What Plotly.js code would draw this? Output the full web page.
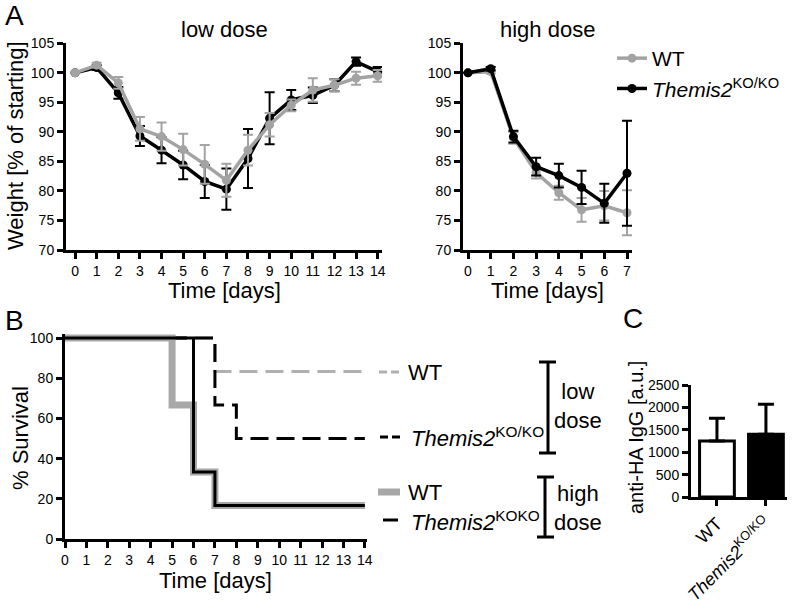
<!DOCTYPE html>
<html>
<head>
<meta charset="utf-8">
<script src="https://cdn.plot.ly/plotly-3.0.1.min.js"></script>
<style>html,body{margin:0;padding:0;background:#fff;}#chart{width:792px;height:608px;}</style>
</head>
<body>
<div id="chart"></div>
<script>
// ---------- DATA ----------
const daysLow = [0,1,2,3,4,5,6,7,8,9,10,11,12,13,14];
const wtLow    = [100,101.3,98.3,90.5,89.2,87.0,84.5,81.8,86.9,91.2,94.5,97.1,97.9,99.1,99.5];
const wtLowErr = [0,0.4,1.0,2.0,2.4,2.7,3.3,2.8,2.6,2.0,1.0,2.0,1.0,1.1,1.0];
const koLow    = [100,100.9,96.6,89.3,86.9,84.4,81.6,80.3,85.5,92.3,95.4,96.2,97.9,101.9,100.2];
const koLowErr = [0,0.4,1.0,1.7,2.2,2.4,2.8,3.5,5.0,4.4,1.7,1.3,1.0,0.7,0.8];

const daysHigh = [0,1,2,3,4,5,6,7];
const wtHigh    = [100,100.2,89.0,83.1,79.7,76.8,77.5,76.3];
const wtHighErr = [0,0.3,1.0,1.0,1.2,2.0,2.5,3.8];
const koHigh    = [100,100.7,89.2,84.1,82.6,80.6,77.9,83.0];
const koHighErr = [0,0.3,1.0,1.5,2.0,2.8,3.3,8.9];

const survLowWtX  = [0,7,14];        const survLowWtY  = [100,83.3,83.3];
const survLowKoX  = [0,7,8,14];      const survLowKoY  = [100,66.7,50,50];
const survHighWtX = [0,5,6,7,14];    const survHighWtY = [100,66.7,33.3,16.7,16.7];
const survHighKoX = [0,6,7,14];      const survHighKoY = [100,33.3,16.7,16.7];

const igGroups = ['WT','<i>Themis2</i><sup>KO/KO</sup>'];
const igValues = [1250,1400];
const igErr    = [510,670];

const weightTicks = [70,75,80,85,90,95,100,105];
const survTicks = [0,20,40,60,80,100];
const igTicks = [0,500,1000,1500,2000,2500];

// ---------- STYLE ----------
const W = 792, H = 608;
const px = v => v / W;
const py = v => 1 - v / H;
const FONT = 'Liberation Sans, Arial, Helvetica, sans-serif';
const GRAY = '#a3a3a3';
const LW = 3;

function xax(domain, range, tickvals, ticktext, extra) {
  return Object.assign({
    domain: domain, range: range, tickvals: tickvals, ticktext: ticktext,
    showline: true, linewidth: LW, linecolor: '#000', ticks: 'outside', ticklen: 6,
    tickwidth: LW, tickcolor: '#000', showgrid: false, zeroline: false,
    tickfont: {family: FONT, size: 14, color: '#000'}, fixedrange: true
  }, extra || {});
}
function yax(domain, range, tickvals, extra) {
  return Object.assign({
    domain: domain, range: range, tickvals: tickvals,
    showline: true, linewidth: LW, linecolor: '#000', ticks: 'outside', ticklen: 6,
    tickwidth: LW, tickcolor: '#000', showgrid: false, zeroline: false,
    tickfont: {family: FONT, size: 14, color: '#000'}, fixedrange: true
  }, extra || {});
}

function wline(x, y, err, color, name, xa, ya, show) {
  return {
    type: 'scatter', mode: 'lines+markers', x: x, y: y, name: name,
    xaxis: xa, yaxis: ya, showlegend: show, cliponaxis: false,
    line: {color: color, width: 3.5},
    marker: {color: color, size: 9},
    error_y: {type: 'data', array: err, visible: true, color: color, thickness: 2, width: 5}
  };
}

const traces = [
  wline(daysLow, koLow, koLowErr, '#000', 'ko', 'x', 'y', false),
  wline(daysLow, wtLow, wtLowErr, GRAY, 'wt', 'x', 'y', false),
  wline(daysHigh, wtHigh, wtHighErr, GRAY, 'WT', 'x2', 'y2', true),
  wline(daysHigh, koHigh, koHighErr, '#000', '<i>Themis2</i><sup>KO/KO</sup>', 'x2', 'y2', true),
  {type:'scatter', mode:'lines', x: survLowWtX, y: survLowWtY, xaxis:'x3', yaxis:'y3', showlegend:false,
   line:{shape:'hv', color:'#b0b0b0', width:3, dash:'18px,8px'}, cliponaxis:false},
  {type:'scatter', mode:'lines', x: survLowKoX, y: survLowKoY, xaxis:'x3', yaxis:'y3', showlegend:false,
   line:{shape:'hv', color:'#000', width:3, dash:'18px,8px'}, cliponaxis:false},
  {type:'scatter', mode:'lines', x: survHighWtX, y: survHighWtY, xaxis:'x3', yaxis:'y3', showlegend:false,
   line:{shape:'hv', color:'#a8a8a8', width:7}, cliponaxis:false},
  {type:'scatter', mode:'lines', x: survHighKoX, y: survHighKoY, xaxis:'x3', yaxis:'y3', showlegend:false,
   line:{shape:'hv', color:'#000', width:3}, cliponaxis:false},
  {type:'bar', x:[0,1], y: igValues, xaxis:'x4', yaxis:'y4', showlegend:false, width:0.71,
   marker:{color:['#fff','#000'], line:{color:'#000', width:3}},
   error_y:{type:'data', symmetric:false, array: igErr, arrayminus:[0,0], color:'#000', thickness:3, width:8}}
];

function ann(text, x, y, size, extra) {
  return Object.assign({text: text, x: px(x), y: py(y), xref:'paper', yref:'paper',
    showarrow:false, xanchor:'center', yanchor:'middle',
    font:{family: FONT, size: size, color:'#000'}}, extra || {});
}

const annotations = [
  ann('A', 14, 16, 28),
  ann('low dose', 224, 29, 22),
  ann('high dose', 547, 29, 22),
  ann('Weight [% of starting]', 16, 146, 22, {textangle: -90}),
  ann('Time [days]', 224, 290, 22),
  ann('Time [days]', 547, 290, 22),
  ann('B', 14, 320, 28),
  ann('% Survival', 20, 438, 22, {textangle: -90}),
  ann('Time [days]', 216, 580, 22),
  ann('C', 633, 318, 28),
  ann('anti-HA IgG [a.u.]', 636, 438, 20, {textangle: -90}),
  ann('WT', 406, 372, 22, {xanchor:'left'}),
  ann('<i>Themis2</i><sup>KO/KO</sup>', 409, 437, 22, {xanchor:'left'}),
  ann('WT', 406, 492, 22, {xanchor:'left'}),
  ann('<i>Themis2</i><sup>KOKO</sup>', 409, 521, 22, {xanchor:'left'}),
  ann('low<br>dose', 578, 406, 22),
  ann('high<br>dose', 578, 508, 22)
];

function seg(x0, y0, x1, y1, color, width, dash) {
  return {type:'line', xref:'paper', yref:'paper', x0: px(x0), y0: py(y0), x1: px(x1), y1: py(y1),
    line:{color: color, width: width, dash: dash || 'solid'}};
}
const shapes = [
  seg(379, 372, 400, 372, '#b0b0b0', 3, '8px,4px'),
  seg(380, 437, 400, 437, '#000', 3, '8px,4px'),
  seg(378, 492, 400, 492, '#a8a8a8', 7),
  seg(383, 520, 398, 520, '#000', 3),
  // brackets
  seg(548, 362, 548, 453, '#000', 3), seg(539, 362, 556, 362, '#000', 3), seg(539, 453, 556, 453, '#000', 3),
  seg(545, 477, 545, 537, '#000', 3), seg(537, 477, 554, 477, '#000', 3), seg(537, 537, 554, 537, '#000', 3)
];

const layout = {
  width: W, height: H, margin:{l:0,r:0,t:0,b:0}, paper_bgcolor:'#fff', plot_bgcolor:'rgba(0,0,0,0)',
  font:{family: FONT, color:'#000'},
  showlegend: true,
  legend:{x: px(612), y: py(38), xanchor:'left', yanchor:'top', bgcolor:'rgba(0,0,0,0)',
    font:{family: FONT, size: 21, color:'#000'}, itemwidth: 30, tracegroupgap: 0},
  xaxis:  xax([px(66), px(382)], [-0.42, 14.2], daysLow, daysLow.map(String), {anchor:'y'}),
  yaxis:  yax([py(250), py(43.3)], [70, 105], weightTicks, {anchor:'x'}),
  xaxis2: xax([px(463), px(632)], [-0.22, 7.22], daysHigh, daysHigh.map(String), {anchor:'y2'}),
  yaxis2: yax([py(250), py(43.3)], [70, 105], weightTicks, {anchor:'x2'}),
  xaxis3: xax([px(65), px(367)], [0, 14.1], daysLow, daysLow.map(String), {anchor:'y3'}),
  yaxis3: yax([py(539), py(334)], [0, 102], survTicks, {anchor:'x3'}),
  xaxis4: xax([px(691), px(787)], [-0.53, 1.43], [0,1], igGroups,
              {anchor:'y4', tickangle:-45, tickfont:{family: FONT, size: 18, color:'#000'}}),
  yaxis4: yax([py(497), py(385)], [0, 2500], igTicks, {anchor:'x4'}),
  annotations: annotations,
  shapes: shapes
};

Plotly.newPlot('chart', traces, layout, {displayModeBar:false, staticPlot:true});
</script>
</body>
</html>
